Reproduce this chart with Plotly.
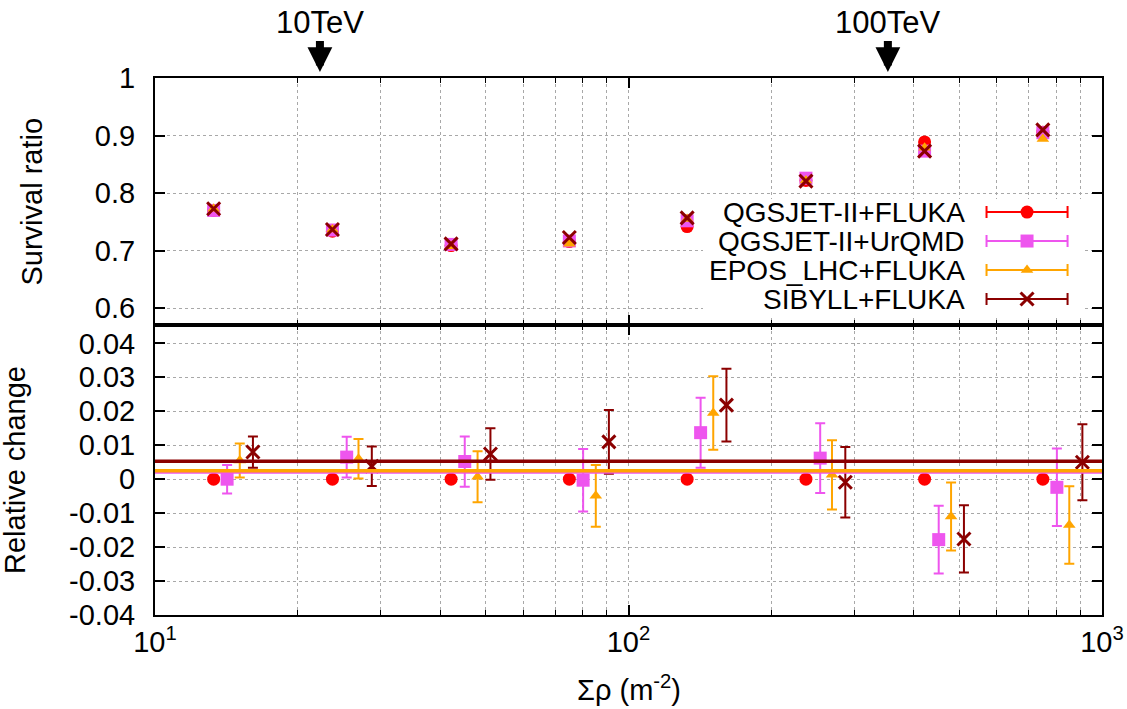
import math
import plotly.graph_objects as go

# ---------------- data ----------------
series_names = ["QGSJET-II+FLUKA", "QGSJET-II+UrQMD", "EPOS_LHC+FLUKA", "SIBYLL+FLUKA"]

# x positions (sum rho, m^-2)
rho_center = [13.3, 23.7, 42.2, 75.0, 133, 237, 422, 750]
rho_pink = [14.2, 25.4, 45.1, 80.2, 142, 254, 452, 803]
rho_orange = [15.1, 26.9, 48.0, 85.3, 151, 269, 480, 853]
rho_dark = [16.1, 28.7, 51.1, 90.9, 161, 287, 511, 909]

# upper panel: survival ratio
surv_qgs_fluka = [0.770, 0.734, 0.709, 0.716, 0.742, 0.822, 0.889, 0.906]
surv_qgs_urqmd = [0.770, 0.736, 0.711, 0.717, 0.752, 0.826, 0.873, 0.905]
surv_epos_fluka = [0.773, 0.737, 0.708, 0.712, 0.755, 0.822, 0.879, 0.894]
surv_sibyll_fluka = [0.773, 0.737, 0.712, 0.723, 0.757, 0.821, 0.873, 0.910]

# lower panel: relative change
rel_qgs_fluka = [0, 0, 0, 0, 0, 0, 0, 0]
rel_qgs_urqmd = [0.0000, 0.0065, 0.0052, -0.0003, 0.0137, 0.0062, -0.0178, -0.0024]
err_qgs_urqmd = [0.0042, 0.0060, 0.0074, 0.0092, 0.0103, 0.0103, 0.0100, 0.0114]
rel_epos_fluka = [0.0055, 0.0060, 0.0007, -0.0049, 0.0195, 0.0013, -0.0110, -0.0135]
err_epos_fluka = [0.0050, 0.0058, 0.0075, 0.0091, 0.0108, 0.0102, 0.0100, 0.0114]
rel_sibyll_fluka = [0.0080, 0.0038, 0.0074, 0.0110, 0.0218, -0.0009, -0.0176, 0.0050]
err_sibyll_fluka = [0.0046, 0.0058, 0.0076, 0.0094, 0.0107, 0.0104, 0.0099, 0.0112]

# mean relative-change lines
mean_urqmd = 0.0020
mean_epos = 0.0025
mean_sibyll = 0.0053

# energy markers
energy_rho = [22.3, 353]
energy_labels = ["10TeV", "100TeV"]

x_tickvals = [10, 100, 1000]
x_ticktext = ["10<sup>1</sup>", "10<sup>2</sup>", "10<sup>3</sup>"]
x_minor = [20, 30, 40, 50, 60, 70, 80, 90, 200, 300, 400, 500, 600, 700, 800, 900]
y_up_tickvals = [0.6, 0.7, 0.8, 0.9, 1.0]
y_up_ticktext = ["0.6", "0.7", "0.8", "0.9", "1"]
y_lo_tickvals = [-0.04, -0.03, -0.02, -0.01, 0, 0.01, 0.02, 0.03, 0.04]
y_lo_ticktext = ["-0.04", "-0.03", "-0.02", "-0.01", "0", "0.01", "0.02", "0.03", "0.04"]

# ---------------- styles ----------------
FONT = "Liberation Sans, Arial, sans-serif"
RED = "#ff0000"
PINK = "#ee55ee"
ORANGE = "#ffa500"
DARK = "#8b0000"
colors = [RED, PINK, ORANGE, DARK]
markers = [
    dict(symbol="circle", size=13, color=RED),
    dict(symbol="square", size=13, color=PINK),
    dict(symbol="triangle-up", size=11, color=ORANGE),
    dict(symbol="x-thin", size=13, color=DARK, line=dict(width=3, color=DARK)),
]

fig = go.Figure()

# upper panel
for name, ys, mk in zip(series_names,
                        [surv_qgs_fluka, surv_qgs_urqmd, surv_epos_fluka, surv_sibyll_fluka],
                        markers):
    fig.add_trace(go.Scatter(x=rho_center, y=ys, mode="markers", marker=mk,
                             name=name, showlegend=False, xaxis="x2", yaxis="y2"))

# lower panel
lower = [
    (rho_center, rel_qgs_fluka, None),
    (rho_pink, rel_qgs_urqmd, err_qgs_urqmd),
    (rho_orange, rel_epos_fluka, err_epos_fluka),
    (rho_dark, rel_sibyll_fluka, err_sibyll_fluka),
]
for (xs, ys, es), mk, col, name in zip(lower, markers, colors, series_names):
    ey = dict(type="data", array=es, color=col, thickness=2, width=5, visible=True) if es else dict(visible=False)
    fig.add_trace(go.Scatter(x=xs, y=ys, mode="markers", marker=mk, error_y=ey,
                             name=name, showlegend=False, xaxis="x", yaxis="y"))

# ---- legend (drawn on its own small axis pair, box covers grid) ----
LEG_TOP, LEG_BOT = -0.45, 3.55
fig.add_trace(go.Scatter(x=[0, 1, 1, 0, 0], y=[LEG_TOP, LEG_TOP, LEG_BOT, LEG_BOT, LEG_TOP],
                         mode="lines", fill="toself", fillcolor="white", line=dict(width=0),
                         showlegend=False, hoverinfo="skip", xaxis="x3", yaxis="y3"))
SAMPLE_X, SAMPLE_HALF, TEXT_X = 0.8526, 0.1066, 0.6947
for i, (name, mk, col) in enumerate(zip(series_names, markers, colors)):
    fig.add_trace(go.Scatter(x=[SAMPLE_X], y=[i], mode="markers", marker=mk,
                             error_x=dict(type="data", array=[SAMPLE_HALF], color=col,
                                          thickness=2, width=6),
                             showlegend=False, hoverinfo="skip", xaxis="x3", yaxis="y3"))

TICK_SIZE = 29
axis_common = dict(
    showline=True, linecolor="black", linewidth=2, mirror="ticks",
    ticks="inside", tickcolor="black", tickwidth=1.5, ticklen=10,
    showgrid=True, gridcolor="#a8a8a8", griddash="dot", gridwidth=1,
    zeroline=False, automargin=False,
    tickfont=dict(family=FONT, size=TICK_SIZE, color="black"),
)

xaxis_common = dict(axis_common)
xaxis_common.update(
    type="log", range=[1, 3], tickmode="array", tickvals=x_tickvals,
    minor=dict(tickmode="array", tickvals=x_minor, ticks="inside", ticklen=5,
               tickcolor="black", tickwidth=1, showgrid=True,
               gridcolor="#a8a8a8", griddash="dot", gridwidth=1),
)

split = 0.54
fig.update_layout(
    width=1127, height=709,
    margin=dict(l=155, r=25, t=78, b=94, autoexpand=False),
    paper_bgcolor="white", plot_bgcolor="white",
    showlegend=False,
    font=dict(family=FONT, size=TICK_SIZE, color="black"),
    xaxis=dict(xaxis_common, domain=[0, 1], anchor="y", ticktext=x_ticktext),
    xaxis2=dict(xaxis_common, domain=[0, 1], anchor="y2", matches="x", showticklabels=False),
    yaxis=dict(axis_common, domain=[0, split], anchor="x", range=[-0.04, 0.0454],
               tickmode="array", tickvals=y_lo_tickvals, ticktext=y_lo_ticktext,
               ticklabelstandoff=12),
    yaxis2=dict(axis_common, domain=[split, 1], anchor="x2", range=[0.571, 1.0],
                tickmode="array", tickvals=y_up_tickvals, ticktext=y_up_ticktext,
                ticklabelstandoff=12),
    xaxis3=dict(domain=[0.5787, 0.98], range=[0, 1], visible=False, anchor="y3",
                showgrid=False, zeroline=False, fixedrange=True),
    yaxis3=dict(domain=[0.5587, 0.7747], range=[LEG_BOT, LEG_TOP], visible=False, anchor="x3",
                showgrid=False, zeroline=False, fixedrange=True),
)

shapes = []
for val, col, w in [(mean_urqmd, PINK, 2.5), (mean_epos, ORANGE, 3.5), (mean_sibyll, DARK, 3.5)]:
    shapes.append(dict(type="line", xref="x domain", yref="y", x0=0, x1=1, y0=val, y1=val,
                       line=dict(color=col, width=w), layer="above"))
fig.update_layout(shapes=shapes)

ann = []
# axis titles
ann.append(dict(text="Survival ratio", xref="paper", yref="paper", x=0, y=(1 + split) / 2,
                xanchor="center", yanchor="middle",
                xshift=-123, textangle=-90, showarrow=False, font=dict(size=29)))
ann.append(dict(text="Relative change", xref="paper", yref="paper", x=0, y=split / 2,
                xanchor="center", yanchor="middle",
                xshift=-140, textangle=-90, showarrow=False, font=dict(size=29)))
ann.append(dict(text="Σρ (m<sup>-2</sup>)", xref="paper", yref="paper", x=0.5, y=0,
                xanchor="center", yanchor="middle",
                yshift=-73, showarrow=False, font=dict(size=29)))
# energy labels with arrows
for e, lab in zip(energy_rho, energy_labels):
    ann.append(dict(text=lab, xref="x2", yref="paper", x=math.log10(e), y=1, showarrow=True,
                    ax=0, ay=-56, arrowhead=2, arrowsize=0.62, arrowwidth=8, arrowcolor="black",
                    standoff=6, font=dict(size=31)))
# legend texts
for i, name in enumerate(series_names):
    ann.append(dict(text=name, xref="x3", yref="y3", x=TEXT_X, y=i, xanchor="right",
                    yanchor="middle", showarrow=False, font=dict(size=28)))
fig.update_layout(annotations=ann)

fig.write_html("out.html")
